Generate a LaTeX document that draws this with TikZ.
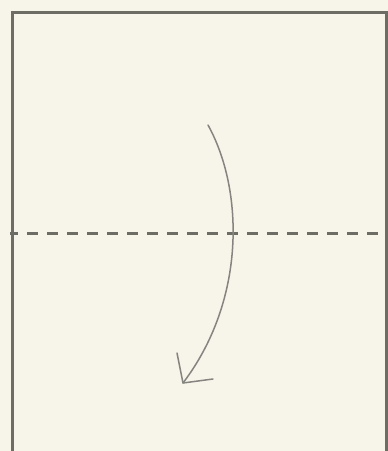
\documentclass[tikz,border=0pt]{standalone}
\definecolor{bg}{HTML}{F7F4E9}
\definecolor{edge}{HTML}{6E6D65}
\definecolor{arr}{HTML}{858480}
\begin{document}
\begin{tikzpicture}[x=1pt,y=-1pt,
  paper/.style={draw=edge,line width=3pt},
  fold/.style={draw=edge,line width=3pt,dash pattern=on 11pt off 9pt,dash phase=3pt},
  turn/.style={draw=arr,line width=1.5pt,line cap=round,line join=round}]
\fill[bg] (0,0) rectangle (388,451);
\useasboundingbox (0,0) rectangle (388,451);
\draw[fold] (10,233) -- (388,233);
\draw[paper] (12,470) -- (12,12) -- (386,12) -- (386,470);
\coordinate (s) at (208,125);
\coordinate (t) at (183,383);
\draw[turn] (s) .. controls (244,190) and (246,300) .. (t);
\draw[turn] (177,353) -- (t) -- (213,379);
\end{tikzpicture}
\end{document}
